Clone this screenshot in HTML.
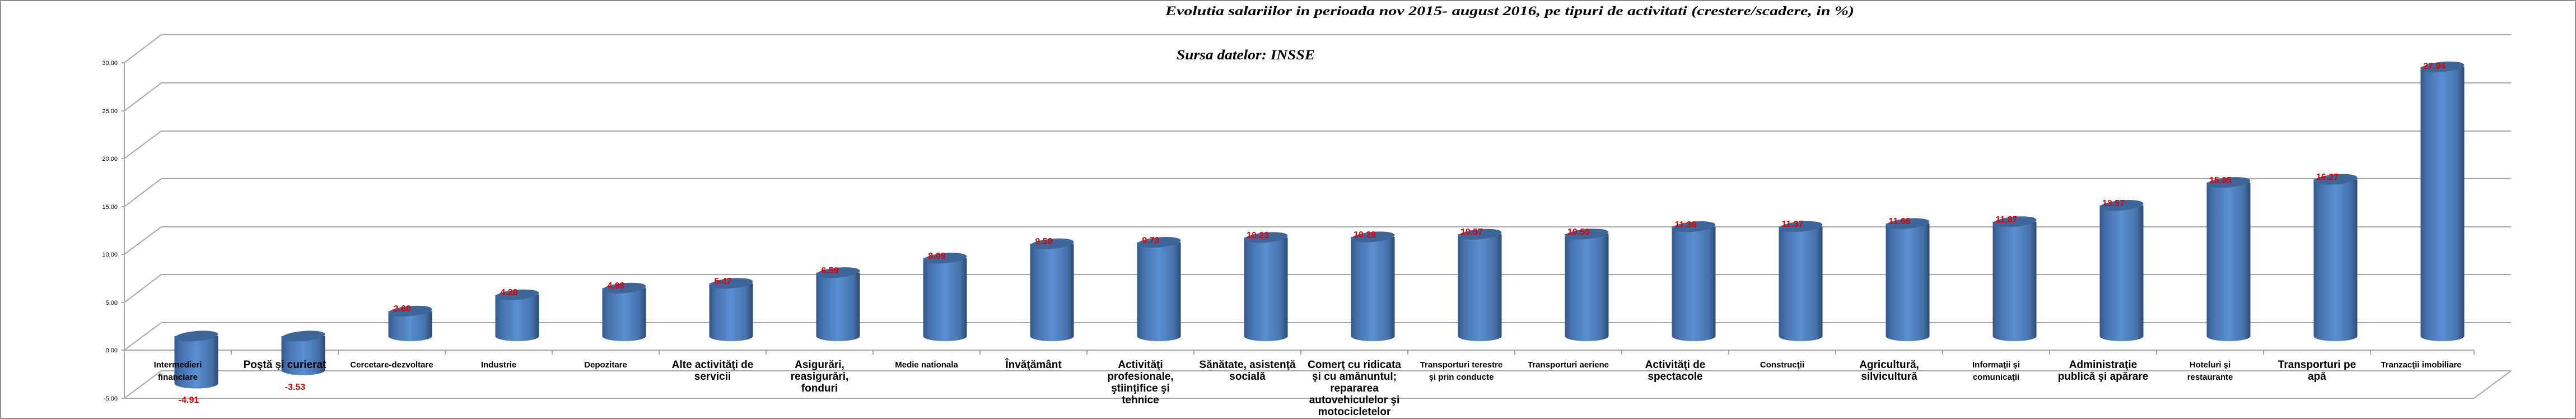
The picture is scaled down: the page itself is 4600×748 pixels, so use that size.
<!DOCTYPE html>
<html><head><meta charset="utf-8"><style>
html,body{margin:0;padding:0;background:#fff;}
svg{display:block;}
.tk{font-family:"Liberation Sans Narrow","Liberation Sans",sans-serif;font-size:11px;fill:#000;}
.c{font-family:"Liberation Sans Narrow","Liberation Sans",sans-serif;font-weight:bold;fill:#000;text-anchor:middle;}
.s{font-size:15px;}
.b{font-size:19px;}
.v{font-family:"Liberation Sans Narrow","Liberation Sans",sans-serif;font-weight:bold;font-size:16px;fill:#e00000;text-anchor:middle;}
</style></head><body>
<svg width="4600" height="748" viewBox="0 0 4600 748" xmlns="http://www.w3.org/2000/svg">
<defs>
<linearGradient id="g" x1="0" x2="1" y1="0" y2="0">
<stop offset="0" stop-color="#35598a"/><stop offset="0.15" stop-color="#4672ad"/><stop offset="0.5" stop-color="#5a8fd2"/><stop offset="0.85" stop-color="#4571aa"/><stop offset="1" stop-color="#2c4a73"/>
</linearGradient>
</defs>
<rect x="1" y="1" width="4598" height="746" fill="#fff" stroke="#8c8c8c" stroke-width="2"/>
<text x="2081" y="27" font-family="Liberation Serif" font-weight="bold" font-style="italic" font-size="23" textLength="1230" lengthAdjust="spacingAndGlyphs">Evolutia salariilor in perioada nov 2015- august 2016, pe tipuri de activitati (crestere/scadere, in %)</text>
<text x="2101" y="106" font-family="Liberation Serif" font-weight="bold" font-style="italic" font-size="25" textLength="247" lengthAdjust="spacingAndGlyphs">Sursa datelor: INSSE</text>
<g stroke="#a6a6a6" stroke-width="2" fill="none">
<line x1="288" y1="62" x2="4484" y2="62"/>
<line x1="288" y1="148" x2="4484" y2="148"/>
<line x1="288" y1="234" x2="4484" y2="234"/>
<line x1="288" y1="319" x2="4484" y2="319"/>
<line x1="288" y1="405" x2="4484" y2="405"/>
<line x1="288" y1="490" x2="4484" y2="490"/>
<line x1="288" y1="576" x2="4484" y2="576"/>
<line x1="288" y1="662" x2="4484" y2="662"/>
<line x1="222" y1="112" x2="288" y2="62"/>
<line x1="222" y1="198" x2="288" y2="148"/>
<line x1="222" y1="283" x2="288" y2="234"/>
<line x1="222" y1="369" x2="288" y2="319"/>
<line x1="222" y1="454" x2="288" y2="405"/>
<line x1="222" y1="540" x2="288" y2="490"/>
<line x1="222" y1="625" x2="288" y2="576"/>
<line x1="222" y1="711" x2="288" y2="662"/>
<line x1="4418" y1="711" x2="4484" y2="662"/>
<line x1="222" y1="112" x2="222" y2="711"/>
<line x1="222" y1="625" x2="4418" y2="625"/>
<line x1="222" y1="711" x2="4418" y2="711"/>
<line x1="217" y1="112" x2="222" y2="112"/><line x1="217" y1="198" x2="222" y2="198"/><line x1="217" y1="283" x2="222" y2="283"/><line x1="217" y1="369" x2="222" y2="369"/><line x1="217" y1="454" x2="222" y2="454"/><line x1="217" y1="540" x2="222" y2="540"/><line x1="217" y1="625" x2="222" y2="625"/><line x1="217" y1="711" x2="222" y2="711"/>
<path d="M413 625v8M604 625v8M795 625v8M986 625v8M1177 625v8M1368 625v8M1559 625v8M1750 625v8M1941 625v8M2132 625v8M2323 625v8M2514 625v8M2705 625v8M2896 625v8M3087 625v8M3278 625v8M3469 625v8M3660 625v8M3851 625v8M4042 625v8M4233 625v8M4418 625v8"/>
</g>
<g class="tk" text-anchor="end">
<text x="210" y="116">30.00</text><text x="210" y="202">25.00</text><text x="210" y="287">20.00</text><text x="210" y="373">15.00</text><text x="210" y="458">10.00</text><text x="210" y="544">5.00</text><text x="210" y="629">0.00</text><text x="210" y="715">-5.00</text>
</g>
<g>
<rect x="311.5" y="600" width="78" height="84.5" fill="url(#g)"/><ellipse cx="350.5" cy="684.5" rx="39" ry="9" fill="url(#g)"/><ellipse cx="350.5" cy="600" rx="39" ry="9" fill="#3e6699" transform="rotate(-5 350.5 600)"/>
<rect x="502.5" y="600" width="78" height="60.7" fill="url(#g)"/><ellipse cx="541.5" cy="660.7" rx="39" ry="9" fill="url(#g)"/><ellipse cx="541.5" cy="600" rx="39" ry="9" fill="#3e6699" transform="rotate(-5 541.5 600)"/>
<rect x="693.5" y="555.3" width="78" height="44.7" fill="url(#g)"/><ellipse cx="732.5" cy="600" rx="39" ry="9" fill="url(#g)"/><ellipse cx="732.5" cy="555.3" rx="39" ry="9" fill="#3e6699" transform="rotate(-5 732.5 555.3)"/>
<rect x="884.5" y="526.4" width="78" height="73.6" fill="url(#g)"/><ellipse cx="923.5" cy="600" rx="39" ry="9" fill="url(#g)"/><ellipse cx="923.5" cy="526.4" rx="39" ry="9" fill="#3e6699" transform="rotate(-5 923.5 526.4)"/>
<rect x="1075.5" y="514.3" width="78" height="85.7" fill="url(#g)"/><ellipse cx="1114.5" cy="600" rx="39" ry="9" fill="url(#g)"/><ellipse cx="1114.5" cy="514.3" rx="39" ry="9" fill="#3e6699" transform="rotate(-5 1114.5 514.3)"/>
<rect x="1266.5" y="505.9" width="78" height="94.1" fill="url(#g)"/><ellipse cx="1305.5" cy="600" rx="39" ry="9" fill="url(#g)"/><ellipse cx="1305.5" cy="505.9" rx="39" ry="9" fill="#3e6699" transform="rotate(-5 1305.5 505.9)"/>
<rect x="1457.5" y="486.7" width="78" height="113.3" fill="url(#g)"/><ellipse cx="1496.5" cy="600" rx="39" ry="9" fill="url(#g)"/><ellipse cx="1496.5" cy="486.7" rx="39" ry="9" fill="#3e6699" transform="rotate(-5 1496.5 486.7)"/>
<rect x="1648.5" y="460.9" width="78" height="139.1" fill="url(#g)"/><ellipse cx="1687.5" cy="600" rx="39" ry="9" fill="url(#g)"/><ellipse cx="1687.5" cy="460.9" rx="39" ry="9" fill="#3e6699" transform="rotate(-5 1687.5 460.9)"/>
<rect x="1839.5" y="435.2" width="78" height="164.8" fill="url(#g)"/><ellipse cx="1878.5" cy="600" rx="39" ry="9" fill="url(#g)"/><ellipse cx="1878.5" cy="435.2" rx="39" ry="9" fill="#3e6699" transform="rotate(-5 1878.5 435.2)"/>
<rect x="2030.5" y="432.6" width="78" height="167.4" fill="url(#g)"/><ellipse cx="2069.5" cy="600" rx="39" ry="9" fill="url(#g)"/><ellipse cx="2069.5" cy="432.6" rx="39" ry="9" fill="#3e6699" transform="rotate(-5 2069.5 432.6)"/>
<rect x="2221.5" y="424" width="78" height="176" fill="url(#g)"/><ellipse cx="2260.5" cy="600" rx="39" ry="9" fill="url(#g)"/><ellipse cx="2260.5" cy="424" rx="39" ry="9" fill="#3e6699" transform="rotate(-5 2260.5 424)"/>
<rect x="2412.5" y="423" width="78" height="177" fill="url(#g)"/><ellipse cx="2451.5" cy="600" rx="39" ry="9" fill="url(#g)"/><ellipse cx="2451.5" cy="423" rx="39" ry="9" fill="#3e6699" transform="rotate(-5 2451.5 423)"/>
<rect x="2603.5" y="418.2" width="78" height="181.8" fill="url(#g)"/><ellipse cx="2642.5" cy="600" rx="39" ry="9" fill="url(#g)"/><ellipse cx="2642.5" cy="418.2" rx="39" ry="9" fill="#3e6699" transform="rotate(-5 2642.5 418.2)"/>
<rect x="2794.5" y="417.9" width="78" height="182.1" fill="url(#g)"/><ellipse cx="2833.5" cy="600" rx="39" ry="9" fill="url(#g)"/><ellipse cx="2833.5" cy="417.9" rx="39" ry="9" fill="#3e6699" transform="rotate(-5 2833.5 417.9)"/>
<rect x="2985.5" y="404.6" width="78" height="195.4" fill="url(#g)"/><ellipse cx="3024.5" cy="600" rx="39" ry="9" fill="url(#g)"/><ellipse cx="3024.5" cy="404.6" rx="39" ry="9" fill="#3e6699" transform="rotate(-5 3024.5 404.6)"/>
<rect x="3176.5" y="404.4" width="78" height="195.6" fill="url(#g)"/><ellipse cx="3215.5" cy="600" rx="39" ry="9" fill="url(#g)"/><ellipse cx="3215.5" cy="404.4" rx="39" ry="9" fill="#3e6699" transform="rotate(-5 3215.5 404.4)"/>
<rect x="3367.5" y="399.1" width="78" height="200.9" fill="url(#g)"/><ellipse cx="3406.5" cy="600" rx="39" ry="9" fill="url(#g)"/><ellipse cx="3406.5" cy="399.1" rx="39" ry="9" fill="#3e6699" transform="rotate(-5 3406.5 399.1)"/>
<rect x="3558.5" y="395.8" width="78" height="204.2" fill="url(#g)"/><ellipse cx="3597.5" cy="600" rx="39" ry="9" fill="url(#g)"/><ellipse cx="3597.5" cy="395.8" rx="39" ry="9" fill="#3e6699" transform="rotate(-5 3597.5 395.8)"/>
<rect x="3749.5" y="366.6" width="78" height="233.4" fill="url(#g)"/><ellipse cx="3788.5" cy="600" rx="39" ry="9" fill="url(#g)"/><ellipse cx="3788.5" cy="366.6" rx="39" ry="9" fill="#3e6699" transform="rotate(-5 3788.5 366.6)"/>
<rect x="3940.5" y="325.7" width="78" height="274.3" fill="url(#g)"/><ellipse cx="3979.5" cy="600" rx="39" ry="9" fill="url(#g)"/><ellipse cx="3979.5" cy="325.7" rx="39" ry="9" fill="#3e6699" transform="rotate(-5 3979.5 325.7)"/>
<rect x="4131.5" y="320.2" width="78" height="279.8" fill="url(#g)"/><ellipse cx="4170.5" cy="600" rx="39" ry="9" fill="url(#g)"/><ellipse cx="4170.5" cy="320.2" rx="39" ry="9" fill="#3e6699" transform="rotate(-5 4170.5 320.2)"/>
<rect x="4322.5" y="119.4" width="78" height="480.6" fill="url(#g)"/><ellipse cx="4361.5" cy="600" rx="39" ry="9" fill="url(#g)"/><ellipse cx="4361.5" cy="119.4" rx="39" ry="9" fill="#3e6699" transform="rotate(-5 4361.5 119.4)"/>
</g>
<g>
<text class="v" x="337" y="719">-4.91</text>
<text class="v" x="527" y="696">-3.53</text>
<text class="v" x="718" y="556">2.60</text>
<text class="v" x="909" y="527">4.28</text>
<text class="v" x="1100" y="515">4.98</text>
<text class="v" x="1291" y="507">5.47</text>
<text class="v" x="1482" y="488">6.59</text>
<text class="v" x="1673" y="462">8.09</text>
<text class="v" x="1864" y="436">9.58</text>
<text class="v" x="2055" y="434">9.73</text>
<text class="v" x="2246" y="425">10.23</text>
<text class="v" x="2437" y="424">10.29</text>
<text class="v" x="2628" y="419">10.57</text>
<text class="v" x="2819" y="419">10.59</text>
<text class="v" x="3010" y="406">11.36</text>
<text class="v" x="3201" y="405">11.37</text>
<text class="v" x="3392" y="400">11.68</text>
<text class="v" x="3583" y="397">11.87</text>
<text class="v" x="3774" y="368">13.57</text>
<text class="v" x="3965" y="327">15.95</text>
<text class="v" x="4156" y="321">16.27</text>
<text class="v" x="4347" y="123">27.94</text>
</g>
<g>
<text class="c s" x="317.5" y="656">Intermedieri<tspan x="317.5" dy="22">financiare</tspan></text>
<text class="c b" x="508.5" y="657">Poştă şi curierat</text>
<text class="c s" x="699.5" y="656">Cercetare-dezvoltare</text>
<text class="c s" x="890.5" y="656">Industrie</text>
<text class="c s" x="1081.5" y="656">Depozitare</text>
<text class="c b" x="1272.5" y="657">Alte activităţi de<tspan x="1272.5" dy="21">servicii</tspan></text>
<text class="c b" x="1463.5" y="657">Asigurări,<tspan x="1463.5" dy="21">reasigurări,</tspan><tspan x="1463.5" dy="21">fonduri</tspan></text>
<text class="c s" x="1654.5" y="656">Medie nationala</text>
<text class="c b" x="1845.5" y="657">Învăţământ</text>
<text class="c b" x="2036.5" y="657">Activităţi<tspan x="2036.5" dy="21">profesionale,</tspan><tspan x="2036.5" dy="21">ştiinţifice şi</tspan><tspan x="2036.5" dy="21">tehnice</tspan></text>
<text class="c b" x="2227.5" y="657">Sănătate, asistenţă<tspan x="2227.5" dy="21">socială</tspan></text>
<text class="c b" x="2418.5" y="657">Comerţ cu ridicata<tspan x="2418.5" dy="21">şi cu amănuntul;</tspan><tspan x="2418.5" dy="21">repararea</tspan><tspan x="2418.5" dy="21">autovehiculelor şi</tspan><tspan x="2418.5" dy="21">motocicletelor</tspan></text>
<text class="c s" x="2609.5" y="656">Transporturi terestre<tspan x="2609.5" dy="22">şi prin conducte</tspan></text>
<text class="c s" x="2800.5" y="656">Transporturi aeriene</text>
<text class="c b" x="2991.5" y="657">Activităţi de<tspan x="2991.5" dy="21">spectacole</tspan></text>
<text class="c s" x="3182.5" y="656">Construcţii</text>
<text class="c b" x="3373.5" y="657">Agricultură,<tspan x="3373.5" dy="21">silvicultură</tspan></text>
<text class="c s" x="3564.5" y="656">Informaţii şi<tspan x="3564.5" dy="22">comunicaţii</tspan></text>
<text class="c b" x="3755.5" y="657">Administraţie<tspan x="3755.5" dy="21">publică şi apărare</tspan></text>
<text class="c s" x="3946.5" y="656">Hoteluri şi<tspan x="3946.5" dy="22">restaurante</tspan></text>
<text class="c b" x="4137.5" y="657">Transporturi pe<tspan x="4137.5" dy="21">apă</tspan></text>
<text class="c s" x="4323.5" y="656">Tranzacţii imobiliare</text>
</g>
</svg>
</body></html>
